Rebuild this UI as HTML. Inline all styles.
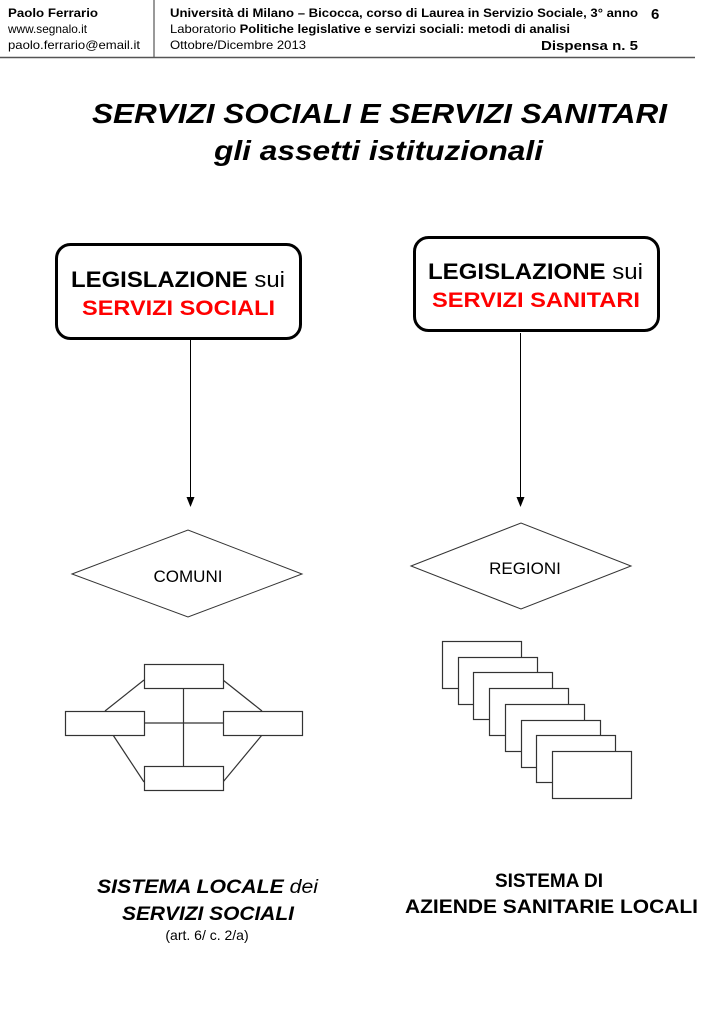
<!DOCTYPE html>
<html><head><meta charset="utf-8"><style>
html,body{margin:0;padding:0;background:#fff}
svg{display:block}
text{font-family:"Liberation Sans",Arial,sans-serif}
</style></head><body>
<svg width="709" height="1024" viewBox="0 0 709 1024" xmlns="http://www.w3.org/2000/svg">
<rect width="709" height="1024" fill="#fff"/>
<!-- header -->
<g font-size="12" fill="#000">
<text x="8" y="17" font-weight="bold" textLength="90" lengthAdjust="spacingAndGlyphs">Paolo Ferrario</text>
<text x="8" y="33" textLength="79" lengthAdjust="spacingAndGlyphs">www.segnalo.it</text>
<text x="8" y="49" textLength="132" lengthAdjust="spacingAndGlyphs">paolo.ferrario@email.it</text>
<text x="170" y="17" font-weight="bold" textLength="468" lengthAdjust="spacingAndGlyphs">Università di Milano – Bicocca, corso di  Laurea in Servizio Sociale, 3° anno</text>
<text x="651" y="19" font-weight="bold" font-size="15">6</text>
<text x="170" y="33" textLength="400" lengthAdjust="spacingAndGlyphs">Laboratorio <tspan font-weight="bold">Politiche legislative e servizi sociali: metodi di analisi</tspan></text>
<text x="170" y="49" textLength="136" lengthAdjust="spacingAndGlyphs">Ottobre/Dicembre 2013</text>
<text x="541" y="50" font-weight="bold" font-size="13" textLength="97" lengthAdjust="spacingAndGlyphs">Dispensa n. 5</text>
</g>
<line x1="154" y1="0" x2="154" y2="57" stroke="#555" stroke-width="1.2"/>
<line x1="0" y1="57.5" x2="695" y2="57.5" stroke="#555" stroke-width="1.5"/>
<!-- title -->
<text x="92" y="123" font-size="28" font-weight="bold" font-style="italic" textLength="575" lengthAdjust="spacingAndGlyphs">SERVIZI SOCIALI E SERVIZI SANITARI</text>
<text x="214" y="160" font-size="28" font-weight="bold" font-style="italic" textLength="329" lengthAdjust="spacingAndGlyphs">gli assetti istituzionali</text>
<!-- boxes -->
<rect x="56.5" y="244.5" width="244" height="94" rx="14" fill="#fff" stroke="#000" stroke-width="3"/>
<rect x="414.5" y="237.5" width="244" height="93" rx="14" fill="#fff" stroke="#000" stroke-width="3"/>
<text x="71" y="287" font-size="22" font-weight="bold" textLength="214" lengthAdjust="spacingAndGlyphs">LEGISLAZIONE <tspan font-weight="normal">sui</tspan></text>
<text x="82" y="315" font-size="21" font-weight="bold" fill="#f00" textLength="193" lengthAdjust="spacingAndGlyphs">SERVIZI SOCIALI</text>
<text x="428" y="279" font-size="22" font-weight="bold" textLength="215" lengthAdjust="spacingAndGlyphs">LEGISLAZIONE <tspan font-weight="normal">sui</tspan></text>
<text x="432" y="307" font-size="21" font-weight="bold" fill="#f00" textLength="208" lengthAdjust="spacingAndGlyphs">SERVIZI SANITARI</text>
<!-- arrows -->
<line x1="190.5" y1="340" x2="190.5" y2="498" stroke="#000" stroke-width="1"/>
<polygon points="186.5,497 194.5,497 190.5,507" fill="#000"/>
<line x1="520.5" y1="333" x2="520.5" y2="498" stroke="#000" stroke-width="1"/>
<polygon points="516.5,497 524.5,497 520.5,507" fill="#000"/>
<!-- diamonds -->
<polygon points="72,574 188,530 302,574 188,617" fill="#fff" stroke="#333" stroke-width="1"/>
<polygon points="411,566 521,523 631,566 521,609" fill="#fff" stroke="#333" stroke-width="1"/>
<text x="188" y="582" font-size="17" text-anchor="middle">COMUNI</text>
<text x="525" y="574" font-size="17" text-anchor="middle">REGIONI</text>
<!-- network -->
<g stroke="#333" stroke-width="1.2" fill="#fff">
<line x1="144" y1="680" x2="105" y2="711"/>
<line x1="223" y1="680" x2="262" y2="711"/>
<line x1="113" y1="735" x2="144" y2="782"/>
<line x1="262" y1="735" x2="223" y2="782"/>
<line x1="183.5" y1="688" x2="183.5" y2="766"/>
<line x1="144" y1="723" x2="223" y2="723"/>
<rect x="144.5" y="664.5" width="79" height="24"/>
<rect x="65.5" y="711.5" width="79" height="24"/>
<rect x="223.5" y="711.5" width="79" height="24"/>
<rect x="144.5" y="766.5" width="79" height="24"/>
</g>
<!-- stacked -->
<g stroke="#333" stroke-width="1.2" fill="#fff">
<rect x="442.5" y="641.5" width="79" height="47"/>
<rect x="458.5" y="657.5" width="79" height="47"/>
<rect x="473.5" y="672.5" width="79" height="47"/>
<rect x="489.5" y="688.5" width="79" height="47"/>
<rect x="505.5" y="704.5" width="79" height="47"/>
<rect x="521.5" y="720.5" width="79" height="47"/>
<rect x="536.5" y="735.5" width="79" height="47"/>
<rect x="552.5" y="751.5" width="79" height="47"/>
</g>
<!-- bottom labels -->
<text x="97" y="893" font-size="19" font-weight="bold" font-style="italic" textLength="221" lengthAdjust="spacingAndGlyphs">SISTEMA LOCALE <tspan font-weight="normal">dei</tspan></text>
<text x="122" y="920" font-size="19" font-weight="bold" font-style="italic" textLength="172" lengthAdjust="spacingAndGlyphs">SERVIZI SOCIALI</text>
<text x="207" y="940" font-size="14" text-anchor="middle">(art. 6/ c. 2/a)</text>
<text x="549" y="887" font-size="19" font-weight="bold" text-anchor="middle">SISTEMA DI</text>
<text x="405" y="913" font-size="19" font-weight="bold" textLength="293" lengthAdjust="spacingAndGlyphs">AZIENDE SANITARIE LOCALI</text>
</svg>
</body></html>
